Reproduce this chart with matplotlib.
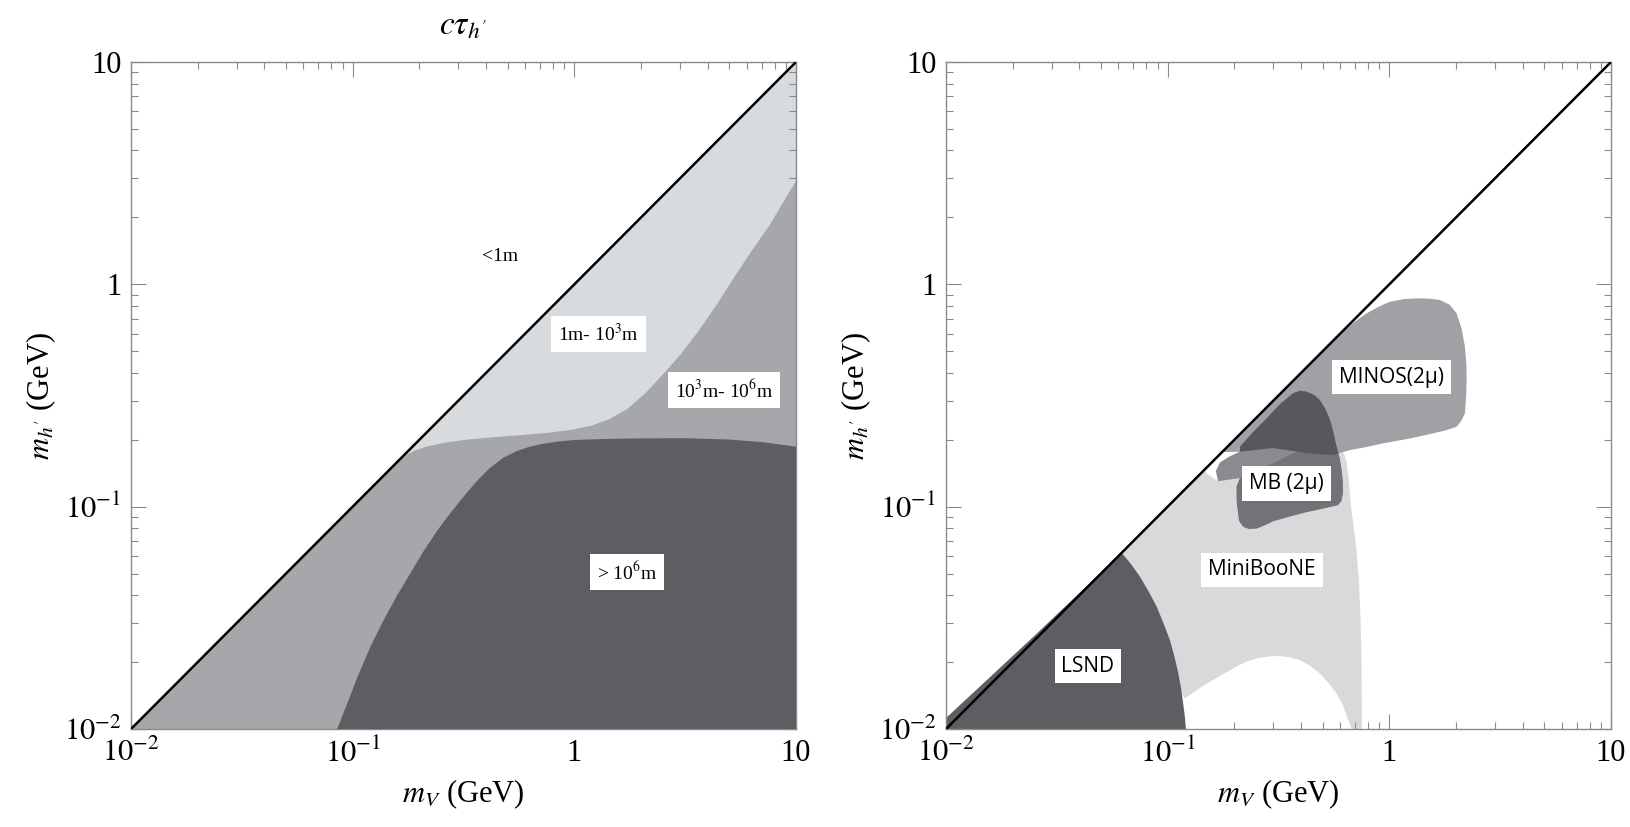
import numpy as np
import matplotlib
matplotlib.use("Agg")
import matplotlib.pyplot as plt

plt.rcParams['font.family'] = ['Liberation Serif', 'DejaVu Serif']
plt.rcParams['mathtext.fontset'] = 'stix'

# ---- left panel: c tau_h' regions (GeV) ----
diag = [0.01, 10.0]

# boundary between "1m-10^3m" (light) and "10^3m-10^6m" (medium)
mid_x = [0.01, 0.1585, 0.1738, 0.1905, 0.2188, 0.2630, 0.3311, 0.4365, 0.5754, 0.7586,
         1.0, 1.202, 1.445, 1.738, 2.089, 2.512, 3.020, 3.631, 4.365, 5.248, 6.310,
         7.586, 8.710, 10.0]
mid_y = [0.01, 0.1585, 0.1706, 0.1786, 0.1871, 0.1941, 0.2004, 0.2056, 0.2099, 0.2148,
         0.2228, 0.2317, 0.2483, 0.2754, 0.3236, 0.3936, 0.4842, 0.6166, 0.8035, 1.072,
         1.413, 1.841, 2.317, 2.924]

# boundary of "> 10^6 m" (dark)
dark_x = [0.0851, 0.0933, 0.1047, 0.1202, 0.1380, 0.1585, 0.1820, 0.2089, 0.2399, 0.2754,
          0.3162, 0.3631, 0.4169, 0.4786, 0.5495, 0.6310, 0.7244, 0.8318, 1.0, 1.413,
          1.995, 3.162, 5.012, 7.079, 10.0]
dark_y = [0.01, 0.01259, 0.01698, 0.02344, 0.03090, 0.03981, 0.05012, 0.0631, 0.07762,
          0.09333, 0.1109, 0.1303, 0.1496, 0.1660, 0.1778, 0.1862, 0.1919, 0.1959, 0.1995,
          0.2018, 0.2028, 0.2032, 0.2004, 0.1950, 0.1862]

left_labels = ['<1m', '1m- 10$^3$m', '10$^3$m- 10$^6$m', '> 10$^6$m']
left_label_x = [0.461, 1.29, 4.73, 1.73]
left_label_y = [1.33, 0.597, 0.335, 0.0508]

# ---- right panel: experimental regions (GeV) ----
lsnd_x = [0.01, 0.025, 0.062, 0.0685, 0.0750, 0.0820, 0.0892, 0.0960, 0.1024, 0.1075,
          0.1117, 0.1150, 0.1175, 0.1195, 0.1209]
lsnd_y = [0.0112, 0.0262, 0.062, 0.0550, 0.0484, 0.0416, 0.0355, 0.0297, 0.0251, 0.0210,
          0.0178, 0.0152, 0.0130, 0.0114, 0.01]

mini_x = [0.062, 0.145, 0.168, 0.212, 0.280, 0.356, 0.440, 0.513, 0.570, 0.615, 0.640,
          0.655, 0.671, 0.690, 0.707, 0.729, 0.742, 0.749, 0.752, 0.676, 0.653, 0.618,
          0.578, 0.535, 0.486, 0.440, 0.395, 0.356, 0.321, 0.285, 0.252, 0.222, 0.198,
          0.172, 0.150, 0.133, 0.1197, 0.09]
mini_y = [0.062, 0.145, 0.1303, 0.1346, 0.152, 0.171, 0.186, 0.195, 0.194, 0.180, 0.160,
          0.135, 0.1007, 0.082, 0.0671, 0.0468, 0.031, 0.0206, 0.01, 0.01, 0.01096, 0.0128,
          0.01445, 0.0160, 0.01778, 0.0192, 0.0204, 0.0210, 0.0213, 0.0212, 0.0208,
          0.0199, 0.01875, 0.0173, 0.0160, 0.0148, 0.01374, 0.02]

minos_x = [0.176, 0.60, 0.70, 0.790, 0.90, 1.006, 1.16, 1.328, 1.52, 1.691, 1.87, 2.012,
           2.12, 2.193, 2.225, 2.233, 2.220, 2.193, 2.11, 2.012, 1.80, 1.578, 1.25, 0.939,
           0.780, 0.664, 0.557, 0.424, 0.2985, 0.212]
minos_y = [0.176, 0.60, 0.680, 0.7405, 0.795, 0.835, 0.858, 0.865, 0.862, 0.850, 0.810,
           0.7405, 0.630, 0.524, 0.440, 0.371, 0.310, 0.263, 0.243, 0.2288, 0.2205,
           0.2138, 0.203, 0.1927, 0.185, 0.1797, 0.1706, 0.1742, 0.1835, 0.1766]

mb_x = [0.212, 0.240, 0.275, 0.320, 0.368, 0.395, 0.424, 0.458, 0.486, 0.515, 0.540,
        0.560, 0.578, 0.597, 0.609, 0.616, 0.618, 0.607, 0.586, 0.50, 0.424, 0.35,
        0.2995, 0.270, 0.252, 0.232, 0.219, 0.210, 0.208, 0.205, 0.2047, 0.212, 0.1686,
        0.165, 0.172, 0.190, 0.212]
mb_y = [0.186, 0.214, 0.2455, 0.288, 0.3236, 0.332, 0.329, 0.318, 0.3016, 0.275, 0.2455,
        0.215, 0.186, 0.165, 0.1462, 0.130, 0.1152, 0.106, 0.1016, 0.098, 0.0946, 0.090,
        0.0861, 0.082, 0.0798, 0.0795, 0.0812, 0.0865, 0.0933, 0.105, 0.123, 0.1346,
        0.1303, 0.1446, 0.158, 0.168, 0.177]

right_labels = ['MINOS(2μ)', 'MB (2μ)', 'MiniBooNE', 'LSND']
right_label_x = [1.02, 0.344, 0.266, 0.0437]
right_label_y = [0.383, 0.127, 0.0519, 0.0192]

tick_vals = [0.01, 0.1, 1, 10]
tick_labels = ['$10^{-2}$', '$10^{-1}$', '1', '10']

fig = plt.figure(figsize=(16.3, 8.27), dpi=100)
ax1 = fig.add_axes([131 / 1630, 1 - 729 / 827, 665 / 1630, 667 / 827])
ax2 = fig.add_axes([946 / 1630, 1 - 729 / 827, 665 / 1630, 667 / 827])

for ax in (ax1, ax2):
    ax.set_xscale('log')
    ax.set_yscale('log')
    ax.set_xlim(0.01, 10)
    ax.set_ylim(0.01, 10)
    ax.set_xticks(tick_vals)
    ax.set_xticklabels(tick_labels)
    ax.set_yticks(tick_vals)
    ax.set_yticklabels(tick_labels)
    ax.tick_params(which='both', direction='in', top=True, right=True,
                   color='#8a8a8a', labelsize=22, pad=7)
    ax.tick_params(which='major', length=11, width=0.8)
    ax.tick_params(which='minor', length=5, width=0.8)
    for s in ax.spines.values():
        s.set_color('#8a8a8a')
        s.set_linewidth(1.0)
    ax.set_xlabel('$m_V$ (GeV)', fontsize=22, labelpad=6)
    ax.set_ylabel("$m_{h^\\prime}$ (GeV)", fontsize=22, labelpad=4)

# left panel fills
ax1.fill([0.01, 10, 10], [0.01, 10, 0.01], color='#d8dbde', lw=0, zorder=1)
ax1.fill(mid_x + [10.0], mid_y + [0.01], color='#a5a7aa', lw=0, zorder=2)
ax1.fill(dark_x + [10.0], dark_y + [0.01], color='#5e5e62', lw=0, zorder=3)
ax1.plot(diag, diag, color='black', lw=1.8, zorder=4)
for t, x, y in zip(left_labels, left_label_x, left_label_y):
    box = None if t == '<1m' else dict(facecolor='white', edgecolor='none', pad=5)
    ax1.text(x, y, t, fontsize=14, ha='center', va='center', bbox=box, zorder=5)
ax1.set_title("$c\\tau_{h^\\prime}$", fontsize=24, pad=20)

# right panel fills
mini = ax2.fill(mini_x, mini_y, color='#d7d9db', lw=0, zorder=1)[0]
ax2.fill(lsnd_x + [0.01], lsnd_y + [0.01], color='#5e5e62', lw=0, zorder=2)
minos = ax2.fill(minos_x, minos_y, color='#a0a1a4', lw=0, zorder=2)[0]
ax2.fill(mb_x, mb_y, color='#8b8b8f', lw=0, zorder=3)
mb_light = ax2.fill(mb_x, mb_y, color='#737377', lw=0, zorder=3.1)[0]
mb_light.set_clip_path(mini)
mb_dark = ax2.fill(mb_x, mb_y, color='#58585c', lw=0, zorder=3.2)[0]
mb_dark.set_clip_path(minos)
ax2.plot(diag, diag, color='black', lw=1.8, zorder=4)
for t, x, y in zip(right_labels, right_label_x, right_label_y):
    ax2.text(x, y, t, fontsize=15, family=['Open Sans', 'DejaVu Sans'],
             ha='center', va='center', zorder=5,
             bbox=dict(facecolor='white', edgecolor='none', pad=5))

fig.savefig('out.png', dpi=100)
